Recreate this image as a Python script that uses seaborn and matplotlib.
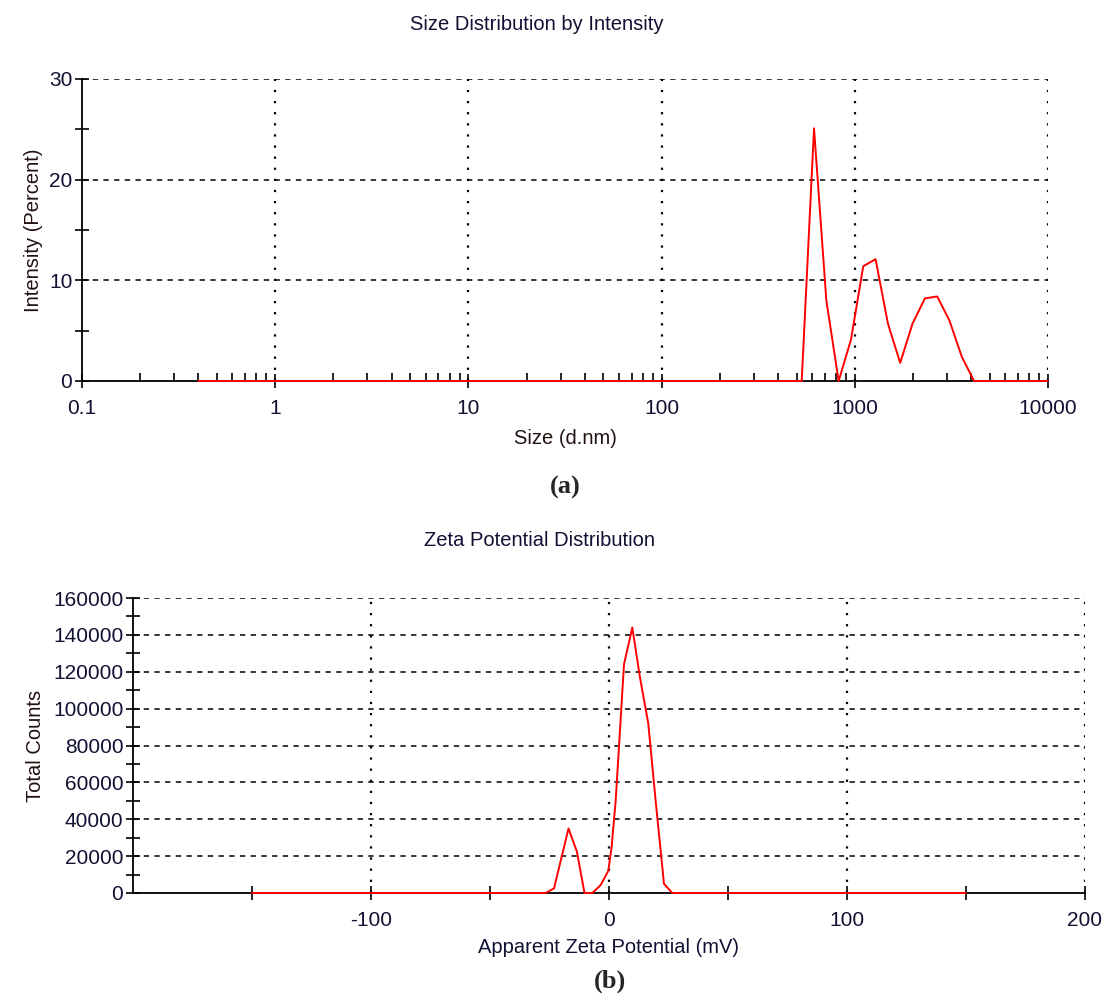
import numpy as np
import pandas as pd
import matplotlib
matplotlib.use("Agg")
import matplotlib.pyplot as plt
import matplotlib.ticker as mticker
import seaborn as sns

# ---- data ----
size_nm = [0.4, 531.2, 615.1, 712.4, 825.0, 955.4, 1106, 1281, 1484, 1718, 1990,
           2305, 2669, 3091, 3580, 4145, 10000]
intensity_pct = [0.0, 0.0, 25.1, 8.0, 0.0, 4.1, 11.4, 12.1, 5.7, 1.8, 5.7,
                 8.2, 8.4, 6.0, 2.4, 0.0, 0.0]

zeta_mv = [-150, -26.6, -23.1, -17.0, -13.5, -10.3, -7.0, -3.5, -0.3, 1.1, 2.8,
           6.3, 9.8, 13.0, 16.5, 19.6, 23.1, 26.6, 150]
total_counts = [0, 0, 2500, 35000, 22500, 0, 0, 4300, 12000, 25000, 50000,
                124000, 144000, 117000, 92000, 50000, 5000, 0, 0]

size_ticks = [0.1, 1, 10, 100, 1000, 10000]
size_tick_labels = ["0.1", "1", "10", "100", "1000", "10000"]
int_ticks = [0, 10, 20, 30]
zeta_ticks = [-100, 0, 100, 200]
count_ticks = [0, 20000, 40000, 60000, 80000, 100000, 120000, 140000, 160000]

sns.set_style("white")
plt.rcParams['font.family'] = ['Liberation Sans', 'DejaVu Sans']

df_a = pd.DataFrame({"size": size_nm, "intensity": intensity_pct})
df_b = pd.DataFrame({"zeta": zeta_mv, "counts": total_counts})

fig = plt.figure(figsize=(11.05, 10), dpi=100)
ax1 = fig.add_axes([82/1105, 1-381/1000, (1048-82)/1105, (381-79)/1000])
ax2 = fig.add_axes([133/1105, 1-893/1000, (1085-133)/1105, (893-598)/1000])

RED = "#ff0000"
dot = (0, (1, 4))
dash = (0, (3.5, 3.5))
tick_fs = 15
label_fs = 14.5

def style_axes(ax):
    for s in ["top", "right"]:
        ax.spines[s].set_visible(False)
    for s in ["left", "bottom"]:
        ax.spines[s].set_color("black")
        ax.spines[s].set_linewidth(1.3)
    ax.set_facecolor("white")
    ax.tick_params(which="both", bottom=True, left=True, top=False, right=False,
                   color="black", labelcolor="#111133")

# ---- (a) size distribution ----
sns.lineplot(data=df_a, x="size", y="intensity", ax=ax1, color=RED, lw=1.4,
             zorder=5, clip_on=False)
ax1.set_xscale("log")
ax1.set_xlim(0.1, 10000)
ax1.set_ylim(0, 30)
style_axes(ax1)
ax1.set_xticks(size_ticks)
ax1.set_xticklabels(size_tick_labels)
ax1.xaxis.set_minor_locator(mticker.LogLocator(base=10, subs=np.arange(2, 10)))
ax1.xaxis.set_minor_formatter(mticker.NullFormatter())
ax1.set_yticks(int_ticks)
ax1.yaxis.set_minor_locator(mticker.MultipleLocator(5))
ax1.tick_params(axis="x", which="major", direction="inout", length=10, width=1.2,
                labelsize=tick_fs, pad=8)
ax1.tick_params(axis="x", which="minor", direction="in", length=6, width=1.2)
ax1.tick_params(axis="y", which="both", direction="inout", length=10, width=1.2,
                labelsize=tick_fs, pad=2)
for v in size_ticks[1:]:
    ax1.axvline(v, color="black", ls=dot, lw=1.6, zorder=1)
for v in int_ticks[1:]:
    ax1.axhline(v, color="black", ls=dash, lw=1.1, zorder=1)
ax1.set_xlabel("Size (d.nm)", fontsize=label_fs, labelpad=8, color="#221111")
ax1.set_ylabel("Intensity (Percent)", fontsize=label_fs, labelpad=4, color="#221111")
fig.text(537/1105, 1-25/1000, "Size Distribution by Intensity", ha="center",
         va="center", fontsize=label_fs, color="#111133")
fig.text(565/1105, 1-487/1000, "(a)", ha="center", va="center", fontsize=19,
         fontweight="bold", family=["Liberation Serif", "DejaVu Serif"])

# ---- (b) zeta potential ----
sns.lineplot(data=df_b, x="zeta", y="counts", ax=ax2, color=RED, lw=1.4,
             zorder=5, clip_on=False)
ax2.set_xlim(-200, 200)
ax2.set_ylim(0, 160000)
style_axes(ax2)
ax2.set_xticks(zeta_ticks)
ax2.set_xticklabels([str(v) for v in zeta_ticks])
ax2.xaxis.set_minor_locator(mticker.FixedLocator([-150, -50, 50, 150]))
ax2.set_yticks(count_ticks)
ax2.set_yticklabels([str(v) for v in count_ticks])
ax2.yaxis.set_minor_locator(mticker.MultipleLocator(10000))
ax2.tick_params(axis="x", which="both", direction="inout", length=10, width=1.2,
                labelsize=tick_fs, pad=8)
ax2.tick_params(axis="y", which="both", direction="inout", length=10, width=1.2,
                labelsize=tick_fs, pad=2)
for v in zeta_ticks:
    ax2.axvline(v, color="black", ls=dot, lw=1.6, zorder=1)
for v in count_ticks[1:]:
    ax2.axhline(v, color="black", ls=dash, lw=1.1, zorder=1)
ax2.set_xlabel("Apparent Zeta Potential (mV)", fontsize=label_fs, labelpad=6,
               color="#111133")
ax2.set_ylabel("Total Counts", fontsize=label_fs, labelpad=6, color="#221111")
fig.text(540/1105, 1-541/1000, "Zeta Potential Distribution", ha="center",
         va="center", fontsize=label_fs, color="#111133")
fig.text(610/1105, 1-981/1000, "(b)", ha="center", va="center", fontsize=19,
         fontweight="bold", family=["Liberation Serif", "DejaVu Serif"])

fig.savefig("out.png", dpi=100, facecolor="white")
